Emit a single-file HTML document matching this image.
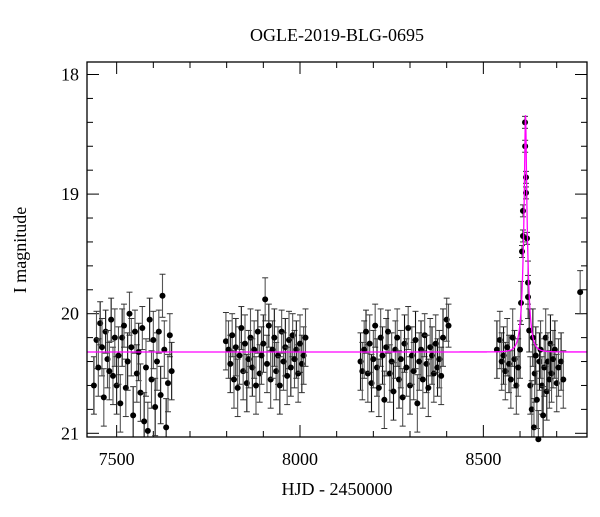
<!DOCTYPE html>
<html><head><meta charset="utf-8"><style>
body{margin:0;background:#fff}
svg text{font-family:"Liberation Serif",serif;fill:#000}
</style></head><body>
<svg id="c" width="600" height="512" xmlns="http://www.w3.org/2000/svg">
<rect x="0" y="0" width="600" height="512" fill="#fff"/>
<text x="337" y="41" font-size="18" text-anchor="middle">OGLE-2019-BLG-0695</text>
<text x="337" y="495" font-size="18" text-anchor="middle">HJD - 2450000</text>
<text x="26" y="250" font-size="18" text-anchor="middle" transform="rotate(-90 26 250)">I magnitude</text>
<g id="ticks"></g>
<g id="pts"></g>
<g id="model"></g>
<rect x="87" y="62" width="500" height="375" fill="none" stroke="#000" stroke-width="1.3"/>
</svg>
<script>
const xTicks=[7500,8000,8500];
const yTicks=[18,19,20,21];
const obsT=[7438,7445,7450,7455,7460,7465,7470,7475,7480,7485,7490,7495,7500,7505,7510,7515,7520,7525,7530,7535,7540,7545,7550,7555,7560,7565,7570,7575,7580,7585,7590,7595,7600,7605,7610,7615,7620,7625,7630,7635,7640,7645,7650,
7798,7805,7810,7815,7820,7825,7830,7835,7840,7845,7850,7855,7860,7865,7870,7875,7880,7885,7890,7895,7900,7905,7910,7915,7920,7925,7930,7935,7940,7945,7950,7955,7960,7965,7970,7975,7980,7985,7990,7995,8000,8005,8010,8015,
8165,8170,8175,8180,8185,8190,8195,8200,8205,8210,8215,8220,8225,8230,8235,8240,8245,8250,8255,8260,8265,8270,8275,8280,8285,8290,8295,8300,8305,8310,8315,8320,8325,8330,8335,8340,8345,8350,8355,8360,8365,8370,8375,8380,8385,8390,8400,8405,
8537,8545,8550,8555,8560,8565,8570,8575,8580,8585,8590,8595,8600,8602.7,8605.4,8608,8608,8613.6,8614,8616.3,8616.3,8619,8621.8,8621.8,8625,8628,8632,8635,8638,8640,8643,8646,8650,8653,8656,8660,8663,8666,8670,8673,8676,8680,8683,8686,8690,8695,8700,8705,8712,8718,8764];
const obsMag=[20.6,20.22,20.45,20.08,20.28,20.7,20.15,20.38,20.48,20.05,20.52,20.2,20.6,20.35,20.75,20.2,20.1,20.62,20.4,20.0,20.28,20.85,20.15,20.5,20.32,20.66,20.12,20.9,20.45,20.98,20.05,20.55,20.22,20.78,20.4,20.15,20.68,19.85,20.3,20.95,20.58,20.18,20.48,
20.23,20.3,20.42,20.18,20.55,20.28,20.62,20.35,20.12,20.48,20.25,20.58,20.38,20.2,20.45,20.3,20.6,20.15,20.5,20.35,20.25,19.88,20.42,20.1,20.55,20.3,20.2,20.48,20.35,20.6,20.15,20.4,20.28,20.52,20.22,20.45,20.18,20.38,20.3,20.5,20.25,20.42,20.35,20.2,
20.4,20.48,20.3,20.15,20.5,20.25,20.58,20.38,20.1,20.45,20.62,20.2,20.35,20.72,20.28,20.15,20.5,20.4,20.65,20.3,20.2,20.55,20.38,20.7,20.25,20.45,20.12,20.6,20.35,20.48,20.22,20.75,20.4,20.3,20.55,20.18,20.42,20.62,20.28,20.35,20.5,20.25,20.45,20.38,20.52,20.2,20.05,20.1,
20.3,20.22,20.4,20.35,20.48,20.28,20.42,20.55,20.2,20.38,20.6,20.45,20.3,19.91,19.48,19.35,19.14,18.4,18.6,18.86,18.99,19.37,19.74,19.86,20.14,20.6,20.8,20.2,20.95,20.5,20.35,20.72,21.05,20.4,20.3,20.6,20.85,20.45,20.2,20.65,20.4,20.55,20.25,20.5,20.38,20.3,20.58,20.45,20.4,20.55,19.82];
const modelT0=[8615];
const modelTE=[13];
const modelU0=[0.163];
const modelBase=[20.32];

const X=t=>300+(t-8000)*0.3667;
const Y=m=>74.5+(m-18)*119.6;
const NS="http://www.w3.org/2000/svg";
function mk(tag,attrs,parent){const e=document.createElementNS(NS,tag);for(const k in attrs)e.setAttribute(k,attrs[k]);parent.appendChild(e);return e;}
const tk=document.getElementById('ticks');
for(let t=7500;t<=8700;t+=100){const major=t%500===0;const l=major?12:6;
 const a=mk('line',{x1:X(t),x2:X(t),y1:437,y2:437-l,stroke:'#000'},tk);
 const b=mk('line',{x1:X(t),x2:X(t),y1:62,y2:62+l,stroke:'#000'},tk);}
xTicks.forEach(t=>{const e=mk('text',{x:X(t),y:465,'font-size':18,'text-anchor':'middle'},tk);e.textContent=t;});
for(let i=0;i<=15;i++){const m=18+i*0.2;const major=i%5===0;const l=major?12:6;
 const a=mk('line',{x1:87,x2:87+l,y1:Y(m),y2:Y(m),stroke:'#000'},tk);
 const b=mk('line',{x1:587,x2:587-l,y1:Y(m),y2:Y(m),stroke:'#000'},tk);}
yTicks.forEach(m=>{const e=mk('text',{x:79,y:Y(m)+6,'font-size':18,'text-anchor':'end'},tk);e.textContent=m;});
const pg=document.getElementById('pts');
obsT.forEach((t,i)=>{const m=obsMag[i];const err=m<19.5?0.05:(m<20.2?0.18:0.24);
 const x=X(t),y1=Math.max(Y(m-err),62),y2=Math.min(Y(m+err),437);
 const g=mk('g',{},pg);
 mk('line',{x1:x,x2:x,y1:y1,y2:y2,stroke:i%3?'#555':'#111','stroke-width':1.1},g);
 mk('line',{x1:x-3,x2:x+3,y1:y1,y2:y1,stroke:'#333'},g);
 mk('line',{x1:x-3,x2:x+3,y1:y2,y2:y2,stroke:'#333'},g);
 mk('circle',{cx:x,cy:Y(m),r:3,fill:'#000'},g);});
let d='';
for(let x=87;x<=587;x+=0.25){const t=8000+(x-300)/0.3667;const tau=(t-modelT0[0])/modelTE[0];const u=Math.sqrt(modelU0[0]**2+tau*tau);
 const A=(u*u+2)/(u*Math.sqrt(u*u+4));const m=modelBase[0]-2.5*Math.log10(A);d+=(d?'L':'M')+x.toFixed(2)+','+Y(m).toFixed(2);}
const p=mk('path',{d:d,fill:'none',stroke:'#f0f','stroke-width':1.3},document.getElementById('model'));


</script>
</body></html>
